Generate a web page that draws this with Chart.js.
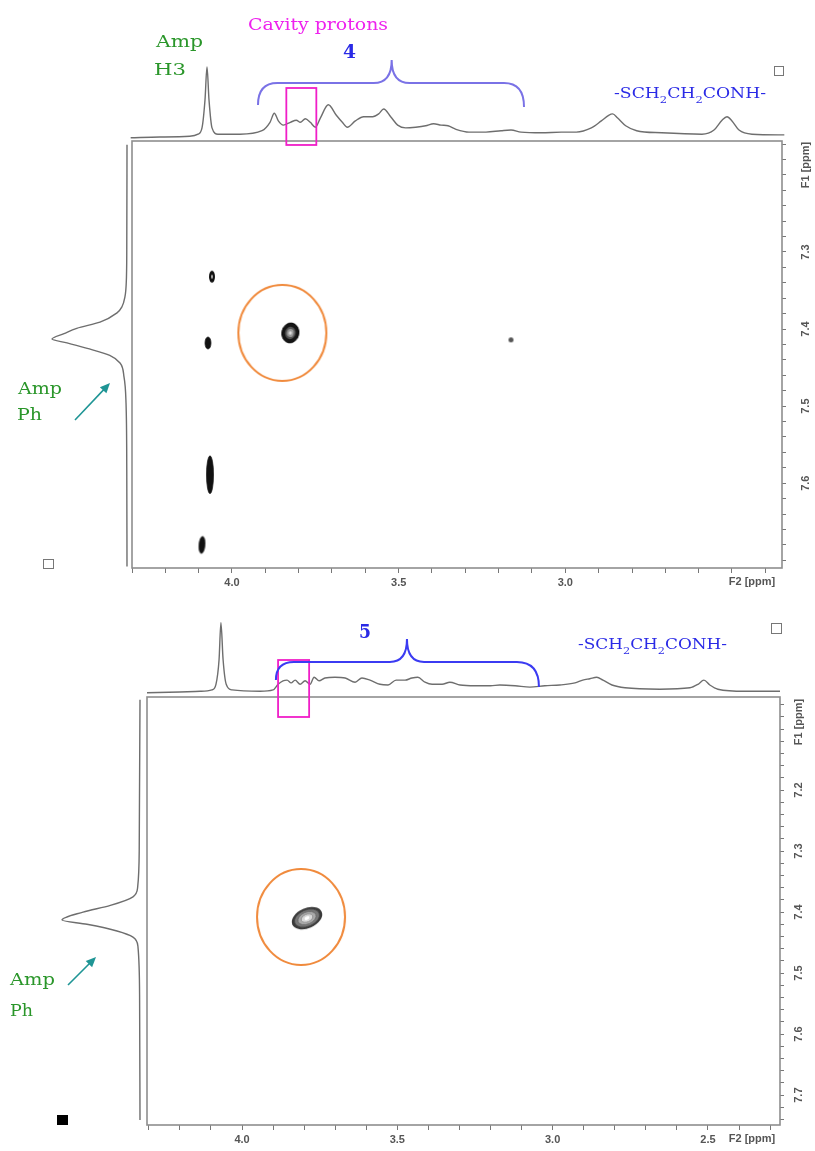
<!DOCTYPE html>
<html>
<head>
<meta charset="utf-8">
<script src="https://cdn.jsdelivr.net/npm/chart.js@4.4.1/dist/chart.umd.min.js"></script>
<style>
html, body { margin: 0; padding: 0; background: #fff; }
#wrap { position: relative; width: 815px; height: 1151px; overflow: hidden; }
canvas { position: absolute; left: 0; }
#c4 { top: 0; }
#c5 { top: 600px; }
</style>
</head>
<body>
<div id="wrap">
  <canvas id="c4" width="815" height="600"></canvas>
  <canvas id="c5" width="815" height="551"></canvas>
</div>
<script>
// ---------- compound 4 (upper spectrum) ----------
const f2Labels4 = [4.0, 3.5, 3.0];
const f1Labels4 = [7.3, 7.4, 7.5, 7.6];
// F2 projection (ppm / relative intensity)
const proj4F2 = [4.304, 4.217, 4.127, 4.102, 4.09, 4.081, 4.075, 4.069, 4.06, 4.042, 3.976, 3.91, 3.886, 3.873, 3.861, 3.846, 3.825, 3.807, 3.795, 3.78, 3.765, 3.75, 3.735, 3.711, 3.687, 3.669, 3.654, 3.63, 3.605, 3.578, 3.56, 3.545, 3.524, 3.503, 3.479, 3.449, 3.419, 3.395, 3.373, 3.352, 3.328, 3.289, 3.238, 3.193, 3.163, 3.133, 3.072, 3.012, 2.967, 2.922, 2.892, 2.87, 2.858, 2.843, 2.819, 2.786, 2.711, 2.59, 2.554, 2.53, 2.515, 2.5, 2.479, 2.44, 2.343];
const proj4Int = [-0.01, 0, 0.01, 0.04, 0.13, 0.53, 1.0, 0.53, 0.13, 0.04, 0.04, 0.09, 0.21, 0.34, 0.23, 0.17, 0.21, 0.24, 0.21, 0.26, 0.21, 0.14, 0.27, 0.46, 0.31, 0.21, 0.14, 0.23, 0.29, 0.29, 0.33, 0.40, 0.29, 0.17, 0.13, 0.14, 0.16, 0.19, 0.17, 0.16, 0.11, 0.07, 0.07, 0.09, 0.10, 0.07, 0.06, 0.07, 0.07, 0.13, 0.23, 0.31, 0.33, 0.27, 0.16, 0.09, 0.06, 0.04, 0.10, 0.24, 0.29, 0.23, 0.10, 0.04, 0.03];
// F1 projection (Amp Ph)
const side4F1 = [7.161, 7.297, 7.34, 7.358, 7.371, 7.379, 7.391, 7.399, 7.406, 7.413, 7.418, 7.425, 7.434, 7.444, 7.462, 7.496, 7.583, 7.708];
const side4Int = [0, 0.003, 0.01, 0.027, 0.067, 0.133, 0.36, 0.67, 0.84, 1.0, 0.8, 0.53, 0.23, 0.093, 0.04, 0.013, 0.003, 0];
// cross peaks
const cross4F2 = [4.06, 4.072, 3.825, 3.163, 4.066, 4.09];
const cross4F1 = [7.332, 7.418, 7.405, 7.414, 7.589, 7.68];
const mark4 = [3.849, 7.405];

// ---------- compound 5 (lower spectrum) ----------
const f2Labels5 = [4.0, 3.5, 3.0, 2.5];
const f1Labels5 = [7.2, 7.3, 7.4, 7.5, 7.6, 7.7];
const proj5F2 = [4.306, 4.2, 4.135, 4.097, 4.084, 4.074, 4.068, 4.061, 4.051, 4.032, 3.942, 3.9, 3.884, 3.868, 3.855, 3.842, 3.829, 3.813, 3.797, 3.781, 3.768, 3.752, 3.733, 3.701, 3.668, 3.636, 3.614, 3.588, 3.556, 3.53, 3.504, 3.475, 3.453, 3.434, 3.411, 3.388, 3.356, 3.331, 3.298, 3.25, 3.2, 3.17, 3.121, 3.073, 3.025, 2.977, 2.928, 2.903, 2.88, 2.858, 2.838, 2.809, 2.767, 2.655, 2.558, 2.532, 2.513, 2.494, 2.468, 2.381, 2.268];
const proj5Int = [-0.01, 0, 0.01, 0.03, 0.11, 0.46, 0.99, 0.46, 0.11, 0.03, 0.01, 0.03, 0.11, 0.16, 0.17, 0.13, 0.17, 0.11, 0.16, 0.11, 0.21, 0.16, 0.2, 0.21, 0.2, 0.14, 0.2, 0.17, 0.11, 0.1, 0.17, 0.17, 0.2, 0.21, 0.14, 0.11, 0.11, 0.14, 0.1, 0.09, 0.09, 0.1, 0.09, 0.07, 0.09, 0.1, 0.13, 0.17, 0.19, 0.21, 0.17, 0.1, 0.06, 0.04, 0.06, 0.11, 0.17, 0.1, 0.04, 0.01, 0.01];
const side5F1 = [7.052, 7.298, 7.359, 7.375, 7.389, 7.4, 7.413, 7.42, 7.431, 7.441, 7.457, 7.544, 7.741];
const side5Int = [0, 0.01, 0.03, 0.09, 0.38, 0.73, 1.0, 0.68, 0.295, 0.09, 0.026, 0.005, 0];
const cross5F2 = [3.791];
const cross5F1 = [7.41];
const mark5 = [3.81, 7.408];

// ---------- styles ----------
const GREEN = '#2a962a';
const BLUE = '#2a2ae6';
const MAGENTA = '#f01ec8';
const TEAL = '#1f9595';
const SERIF = "'DejaVu Serif', 'Liberation Serif', serif";

Chart.defaults.font.family = "'Liberation Sans', Arial, sans-serif";

// small canvases used as point styles for contours
function blobImage(s) {
    const size = Math.ceil(Math.max(s.w, s.h)) + 6;
    const c = document.createElement('canvas');
    c.width = size; c.height = size;
    const g = c.getContext('2d');
    const m = size / 2;
    s.levels.forEach(lv => {
        g.beginPath();
        g.ellipse(m, m, s.w / 2 * lv.k, s.h / 2 * lv.k, s.rot || 0, 0, Math.PI * 2);
        if (lv.fill) { g.fillStyle = lv.fill; g.fill(); }
        if (lv.stroke) { g.strokeStyle = lv.stroke; g.lineWidth = lv.lw || 1; g.stroke(); }
    });
    return c;
}

const dark = [{ k: 1, fill: '#111', stroke: '#222', lw: 0.8 }];
const shapes4 = [
    { w: 6, h: 12, levels: [{ k: 1, fill: '#111' }, { k: 0.35, fill: '#aaa' }] },
    { w: 6, h: 12, levels: dark },
    { w: 17, h: 20, rot: 0.2, levels: [{ k: 1, fill: '#151515', stroke: '#000', lw: 1 }, { k: 0.62, fill: '#555' }, { k: 0.4, fill: '#999' }, { k: 0.18, fill: '#ddd' }] },
    { w: 5, h: 5, levels: [{ k: 1, fill: '#555' }] },
    { w: 7, h: 38, levels: dark },
    { w: 6, h: 17, rot: 0.08, levels: dark }
];
const shapes5 = [
    { w: 32, h: 20, rot: -0.4, levels: [
        { k: 1, fill: '#3a3a3a' },
        { k: 0.82, fill: '#777', stroke: '#444', lw: 0.8 },
        { k: 0.6, fill: '#aaa', stroke: '#666', lw: 0.8 },
        { k: 0.38, fill: '#d8d8d8', stroke: '#888', lw: 0.8 },
        { k: 0.16, fill: '#fff' }] }
];
const ringShape = { w: 88, h: 96, levels: [{ k: 1, stroke: '#f08a3c', lw: 2 }] };

const panel4 = {
    id: 'c4', canvasH: 600,
    area: { left: 132, top: 141, right: 782, bottom: 568 },
    f2Range: [2.35, 4.30], f1Range: [7.156, 7.71],
    topProj: { gap: 4, scale: 70 }, leftProj: { gap: 5, scale: 75 },
    xAxisH: 32, yAxisW: 33,
    f2: proj4F2, f2Int: proj4Int, f1: side4F1, f1Int: side4Int,
    crossF2: cross4F2, crossF1: cross4F1, shapes: shapes4, mark: mark4,
    f2Labels: f2Labels4, f1Labels: f1Labels4,
    yLabelX: 806, f1TitleY: 165, f2Title: [752, 582],
    box: { x: [3.837, 3.747], y: [0.7, -0.114] },
    brace: { l: 3.922, lc: 3.864, tl: 3.575, t: 3.521, tr: 3.467, rc: 3.184, r: 3.124,
             yl: 0.457, bar: 0.771, tip: 1.1, yr: 0.43, color: '#7a72e6' },
    texts: [
        { text: 'Cavity protons', x: 248, y: 26, w: 140, font: '17px ' + SERIF, color: '#ee22ee' },
        { text: '4', x: 343, y: 53, w: 13, font: 'bold 18px ' + SERIF, color: BLUE },
        { text: 'Amp', x: 156, y: 43, w: 47, font: '17px ' + SERIF, color: GREEN },
        { text: 'H3', x: 154, y: 71, w: 32, font: '17px ' + SERIF, color: GREEN },
        { text: 'Amp', x: 18, y: 390, w: 44, font: '17px ' + SERIF, color: GREEN },
        { text: 'Ph', x: 17, y: 416, w: 25, font: '17px ' + SERIF, color: GREEN }
    ],
    group: { x: 614, y: 98, w: 152 },
    arrow: [75, 420, 110, 383],
    squares: [[774, 66, 9, 9, false], [43, 559, 10, 9, false]]
};

const panel5 = {
    id: 'c5', canvasH: 551,
    area: { left: 147, top: 97, right: 780, bottom: 525 },
    f2Range: [2.268, 4.306], f1Range: [7.0475, 7.749],
    topProj: { gap: 5, scale: 70 }, leftProj: { gap: 7, scale: 78 },
    xAxisH: 26, yAxisW: 33,
    f2: proj5F2, f2Int: proj5Int, f1: side5F1, f1Int: side5Int,
    crossF2: cross5F2, crossF1: cross5F1, shapes: shapes5, mark: mark5,
    f2Labels: f2Labels5, f1Labels: f1Labels5,
    yLabelX: 799, f1TitleY: 122, f2Title: [752, 539],
    box: { x: [3.884, 3.784], y: [0.457, -0.357] },
    brace: { l: 3.891, lc: 3.833, tl: 3.524, t: 3.469, tr: 3.414, rc: 3.115, r: 3.044,
             yl: 0.17, bar: 0.429, tip: 0.757, yr: 0.07, color: '#3b3bf2' },
    texts: [
        { text: '5', x: 359, y: 33, w: 12, font: 'bold 18px ' + SERIF, color: BLUE },
        { text: 'Amp', x: 10, y: 381, w: 45, font: '17px ' + SERIF, color: GREEN },
        { text: 'Ph', x: 10, y: 412, w: 23, font: '17px ' + SERIF, color: GREEN }
    ],
    group: { x: 578, y: 49, w: 149 },
    arrow: [68, 385, 96, 357],
    squares: [[771, 23, 10, 10, false], [57, 515, 11, 10, true]]
};

function isLabel(list, v) {
    return list.some(l => Math.abs(l - v) < 1e-6);
}

function drawFit(ctx, t) {
    ctx.save();
    ctx.font = t.font;
    ctx.fillStyle = t.color;
    ctx.textBaseline = 'middle';
    ctx.textAlign = 'left';
    const nat = ctx.measureText(t.text).width;
    ctx.translate(t.x, t.y);
    ctx.scale(t.w / nat, 1);
    ctx.fillText(t.text, 0, 0);
    ctx.restore();
}

// -SCH2CH2CONH- with subscripts
function drawGroup(ctx, g) {
    const parts = [['-SCH', 0], ['2', 1], ['CH', 0], ['2', 1], ['CONH-', 0]];
    const fMain = '15px ' + SERIF, fSub = '10px ' + SERIF;
    ctx.save();
    ctx.textAlign = 'left';
    ctx.textBaseline = 'alphabetic';
    let nat = 0;
    parts.forEach(p => { ctx.font = p[1] ? fSub : fMain; nat += ctx.measureText(p[0]).width; });
    ctx.translate(g.x, g.y);
    ctx.scale(g.w / nat, 1);
    ctx.fillStyle = BLUE;
    let x = 0;
    parts.forEach(p => {
        ctx.font = p[1] ? fSub : fMain;
        ctx.fillText(p[0], x, p[1] ? 5 : 0);
        x += ctx.measureText(p[0]).width;
    });
    ctx.restore();
}

function drawDecor(chart, P) {
    const ctx = chart.ctx;
    const a = chart.chartArea;
    const sx = chart.scales.x, sy = chart.scales.y, sp = chart.scales.ys;
    ctx.save();

    // plot frame
    ctx.strokeStyle = '#8e8e8e';
    ctx.lineWidth = 1.6;
    ctx.strokeRect(a.left, a.top, a.right - a.left, a.bottom - a.top);

    // rotated F1 tick labels
    ctx.fillStyle = '#555';
    ctx.font = "bold 11px 'Liberation Sans', Arial, sans-serif";
    ctx.textAlign = 'center';
    ctx.textBaseline = 'middle';
    P.f1Labels.forEach(v => {
        ctx.save();
        ctx.translate(P.yLabelX, sy.getPixelForValue(v));
        ctx.rotate(-Math.PI / 2);
        ctx.fillText(v.toFixed(1), 0, 0);
        ctx.restore();
    });
    ctx.save();
    ctx.translate(P.yLabelX, P.f1TitleY);
    ctx.rotate(-Math.PI / 2);
    ctx.fillText('F1 [ppm]', 0, 0);
    ctx.restore();
    ctx.fillText('F2 [ppm]', P.f2Title[0], P.f2Title[1]);

    // magenta box around cavity protons
    const bx = P.box;
    ctx.strokeStyle = MAGENTA;
    ctx.lineWidth = 1.8;
    const x0 = sx.getPixelForValue(bx.x[0]), x1 = sx.getPixelForValue(bx.x[1]);
    const y0 = sp.getPixelForValue(bx.y[0]), y1 = sp.getPixelForValue(bx.y[1]);
    ctx.strokeRect(x0, y0, x1 - x0, y1 - y0);

    // brace
    const b = P.brace;
    const X = v => sx.getPixelForValue(v), Y = v => sp.getPixelForValue(v);
    ctx.strokeStyle = b.color;
    ctx.lineWidth = 2;
    ctx.beginPath();
    ctx.moveTo(X(b.l), Y(b.yl));
    ctx.quadraticCurveTo(X(b.l), Y(b.bar), X(b.lc), Y(b.bar));
    ctx.lineTo(X(b.tl), Y(b.bar));
    ctx.quadraticCurveTo(X(b.t), Y(b.bar), X(b.t), Y(b.tip));
    ctx.quadraticCurveTo(X(b.t), Y(b.bar), X(b.tr), Y(b.bar));
    ctx.lineTo(X(b.rc), Y(b.bar));
    ctx.quadraticCurveTo(X(b.r), Y(b.bar), X(b.r), Y(b.yr));
    ctx.stroke();

    // labels
    P.texts.forEach(t => drawFit(ctx, t));
    drawGroup(ctx, P.group);

    // arrow to the Amp Ph projection
    const [ax, ay, hx, hy] = P.arrow;
    const ang = Math.atan2(hy - ay, hx - ax);
    ctx.strokeStyle = TEAL;
    ctx.fillStyle = TEAL;
    ctx.lineWidth = 1.6;
    ctx.beginPath();
    ctx.moveTo(ax, ay);
    ctx.lineTo(hx - 6 * Math.cos(ang), hy - 6 * Math.sin(ang));
    ctx.stroke();
    ctx.beginPath();
    ctx.moveTo(hx, hy);
    ctx.lineTo(hx - 10 * Math.cos(ang) + 4.5 * Math.sin(ang), hy - 10 * Math.sin(ang) - 4.5 * Math.cos(ang));
    ctx.lineTo(hx - 10 * Math.cos(ang) - 4.5 * Math.sin(ang), hy - 10 * Math.sin(ang) + 4.5 * Math.cos(ang));
    ctx.closePath();
    ctx.fill();

    // little squares from the original software
    P.squares.forEach(s => {
        if (s[4]) { ctx.fillStyle = '#000'; ctx.fillRect(s[0], s[1], s[2], s[3]); }
        else { ctx.strokeStyle = '#777'; ctx.lineWidth = 1; ctx.strokeRect(s[0] + 0.5, s[1] + 0.5, s[2], s[3]); }
    });
    ctx.restore();
}

function makePanel(P) {
    const A = P.area;
    const areaW = A.right - A.left, areaH = A.bottom - A.top;
    // hidden intensity scales for the projections, placed outside the plot box
    const ysMax = -P.topProj.gap / P.topProj.scale;
    const ysMin = ysMax - areaH / P.topProj.scale;
    const xsMax = -P.leftProj.gap / P.leftProj.scale;
    const xsMin = xsMax - areaW / P.leftProj.scale;
    const peakImgs = P.shapes.map(blobImage);
    const ringImg = blobImage(ringShape);

    const tickGrid = { display: true, drawOnChartArea: false, drawTicks: true, tickLength: 5, color: '#777', lineWidth: 1 };

    new Chart(document.getElementById(P.id), {
        type: 'line',
        data: {
            datasets: [
                {
                    label: 'F2 projection',
                    data: P.f2.map((v, i) => ({ x: v, y: P.f2Int[i] })),
                    xAxisID: 'x', yAxisID: 'ys',
                    borderColor: '#6e6e6e', borderWidth: 1.4, pointRadius: 0,
                    cubicInterpolationMode: 'monotone', capBezierPoints: false,
                    clip: false, fill: false
                },
                {
                    label: 'F1 projection',
                    indexAxis: 'y',
                    data: P.f1.map((v, i) => ({ x: P.f1Int[i], y: v })),
                    xAxisID: 'xs', yAxisID: 'y',
                    borderColor: '#6e6e6e', borderWidth: 1.4, pointRadius: 0,
                    cubicInterpolationMode: 'monotone', capBezierPoints: false,
                    clip: false, fill: false
                },
                {
                    type: 'scatter',
                    label: 'cross peaks',
                    data: P.crossF2.map((v, i) => ({ x: v, y: P.crossF1[i] })),
                    xAxisID: 'x', yAxisID: 'y',
                    pointStyle: c => peakImgs[c.dataIndex],
                    pointRadius: 3
                },
                {
                    type: 'scatter',
                    label: 'highlight',
                    data: [{ x: P.mark[0], y: P.mark[1] }],
                    xAxisID: 'x', yAxisID: 'y',
                    pointStyle: ringImg,
                    pointRadius: 3
                }
            ]
        },
        options: {
            responsive: false,
            animation: false,
            events: [],
            layout: {
                autoPadding: false,
                padding: {
                    left: A.left, top: A.top,
                    right: 815 - A.right - P.yAxisW,
                    bottom: P.canvasH - A.bottom - P.xAxisH
                }
            },
            plugins: { legend: { display: false }, tooltip: { enabled: false } },
            scales: {
                x: {
                    type: 'linear', axis: 'x', position: 'bottom', reverse: true,
                    min: P.f2Range[0], max: P.f2Range[1],
                    grid: tickGrid, border: { display: false },
                    ticks: {
                        stepSize: 0.1, includeBounds: false, autoSkip: false, maxRotation: 0,
                        padding: 3, color: '#555', font: { size: 11, weight: 'bold' },
                        callback: v => isLabel(P.f2Labels, v) ? v.toFixed(1) : ''
                    },
                    afterFit: s => { s.height = P.xAxisH; }
                },
                y: {
                    type: 'linear', axis: 'y', position: 'right', reverse: true,
                    min: P.f1Range[0], max: P.f1Range[1],
                    grid: Object.assign({}, tickGrid, { tickLength: 4 }), border: { display: false },
                    ticks: { stepSize: 0.02, includeBounds: false, autoSkip: false, display: false },
                    afterFit: s => { s.width = P.yAxisW; }
                },
                ys: { type: 'linear', axis: 'y', position: 'left', display: false, min: ysMin, max: ysMax },
                xs: { type: 'linear', axis: 'x', position: 'top', display: false, reverse: true, min: xsMin, max: xsMax }
            }
        },
        plugins: [{ id: 'decor', afterDraw: chart => drawDecor(chart, P) }]
    });
}

makePanel(panel4);
makePanel(panel5);
</script>
</body>
</html>
